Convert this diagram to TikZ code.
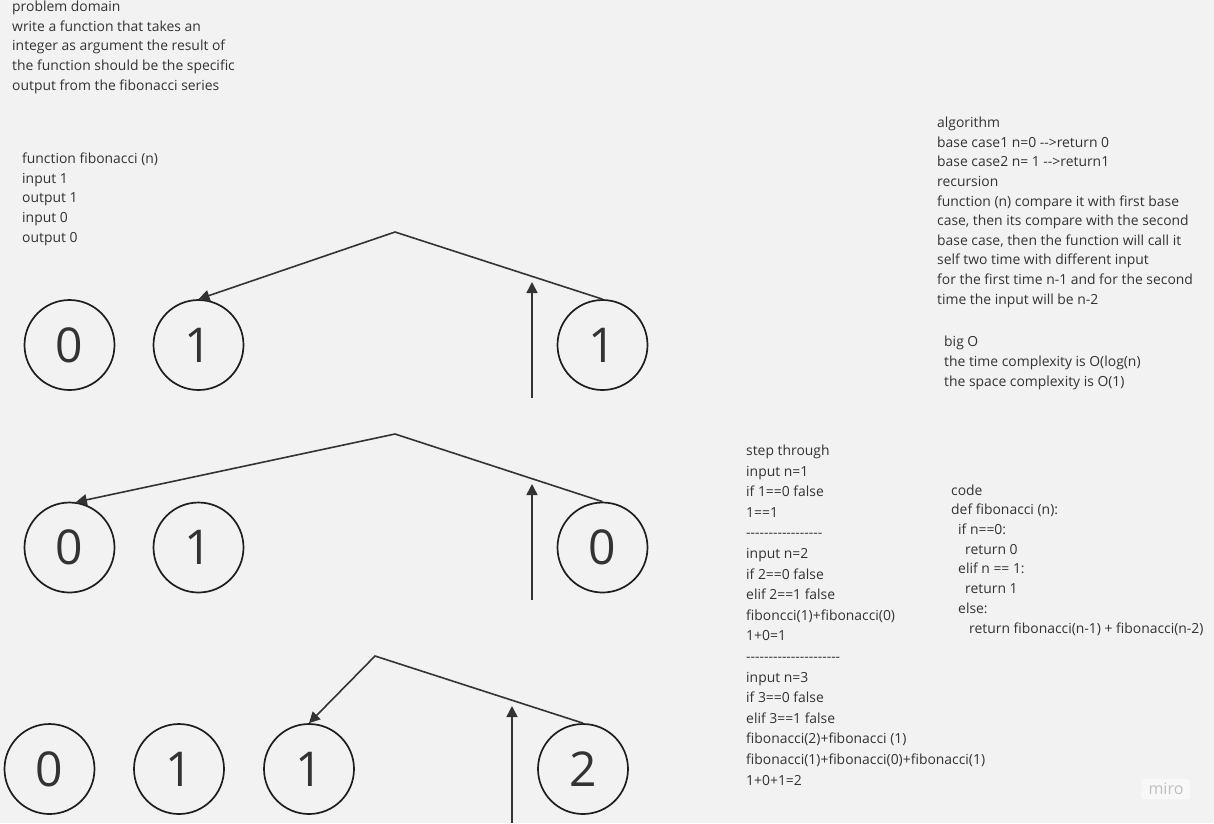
\documentclass[tikz,border=0pt]{standalone}
\usepackage{fontspec}
\setmainfont{Open Sans}[Ligatures=TeXOff]
\usepackage{xcolor}
\usepackage{tikz}
\usetikzlibrary{positioning}
\usetikzlibrary{arrows.meta}

\definecolor{paper}{HTML}{F2F2F2}
\definecolor{ink}{HTML}{333333}
\definecolor{pen}{HTML}{1E1E1E}

\begin{document}
\begin{tikzpicture}[x=1pt, y=-1pt,
    num/.style={draw=pen, circle, line width=1.7pt, minimum size=90pt, inner sep=0pt,
                font=\fontsize{48}{48}\selectfont, text=ink},
    note/.style={anchor=base west, align=left, inner sep=0pt, text=ink,
                 font=\fontsize{13.9}{19.6}\selectfont},
    link/.style={draw=ink, line width=1.6pt},
    call/.style={link, -{Triangle[length=11pt,width=11pt]}}]
    % Background
    \fill[paper] (0,0) rectangle (1214,823);
    \useasboundingbox (0,0) rectangle (1214,823);

    % Notes (placed by the baseline of their last line)
    \node[note] (domain) at (12,90) {problem domain\\write a function that takes an\\integer as argument the result of\\the function should be the specific\\output from the fibonacci series};
    \node[note] (sample) at (22,242) {function fibonacci (n)\\input 1\\output 1\\input 0\\output 0};
    \node[note] (algo) at (937,304) {algorithm\\base case1 n=0 -->return 0\\base case2 n= 1 -->return1\\recursion\\function (n) compare it with first base\\case, then its compare with the second\\base case, then the function will call it\\self two time with different input\\for the first time n-1 and for the second\\time the input will be n-2};
    \node[note] (bigo) at (944,386) {big O\\the time complexity is O(log(n)\\the space complexity is O(1)};
    \node[note, font=\fontsize{13.9}{20.6}\selectfont] (steps) at (746,785) {step through\\input n=1\\if 1==0 false\\1==1\\-----------------\\input n=2\\if 2==0 false\\elif 2==1 false\\fiboncci(1)+fibonacci(0)\\1+0=1\\---------------------\\input n=3\\if 3==0 false\\elif 3==1 false\\fibonacci(2)+fibonacci (1)\\fibonacci(1)+fibonacci(0)+fibonacci(1)\\1+0+1=2};
    \node[note, font=\fontsize{13.9}{19.7}\selectfont] (code) at (951,633) {code\\def fibonacci (n):\\\hspace*{7pt}if n==0:\\\hspace*{14pt}return 0\\\hspace*{7pt}elif n == 1:\\\hspace*{14pt}return 1\\\hspace*{7pt}else:\\\hspace*{18pt}return fibonacci(n-1) + fibonacci(n-2)};

    % Nodes
    \node[num] (A1) at (69.5,345) {0};
    \node[num] (B1) at (198.5,345) {1};
    \node[num] (C1) at (602.5,345) {1};
    \node[num] (A2) at (69.5,547.5) {0};
    \node[num] (B2) at (198.5,547.5) {1};
    \node[num] (C2) at (602.5,547.5) {0};
    \node[num] (A3) at (49.5,769) {0};
    \node[num] (B3) at (179,769) {1};
    \node[num] (C3) at (309,769) {1};
    \node[num] (D3) at (583,769) {2};

    \coordinate (T1) at (395,232);
    \coordinate (T2) at (395,434);
    \coordinate (T3) at (375,656);
    \coordinate (P1) at (532,398);
    \coordinate (Q1) at (532,282);
    \coordinate (P2) at (532,600);
    \coordinate (Q2) at (532,484);
    \coordinate (P3) at (512,823);
    \coordinate (Q3) at (512,706);

    % Edges
    \draw[call] (C1.north) -- (T1) -- (B1.north);
    \draw[call] (C2.north) -- (T2) -- (A2.82);
    \draw[call] (D3.north) -- (T3) -- (C3.north);
    \draw[call] (P1) -- (Q1);
    \draw[call] (P2) -- (Q2);
    \draw[call] (P3) -- (Q3);

    % Watermark
    \node[fill=white!50!paper, rounded corners=3pt, text=black!25, inner xsep=7pt, inner ysep=4pt,
          font=\fontsize{16}{16}\selectfont] (miro) at (1166,789) {miro};
\end{tikzpicture}
\end{document}
